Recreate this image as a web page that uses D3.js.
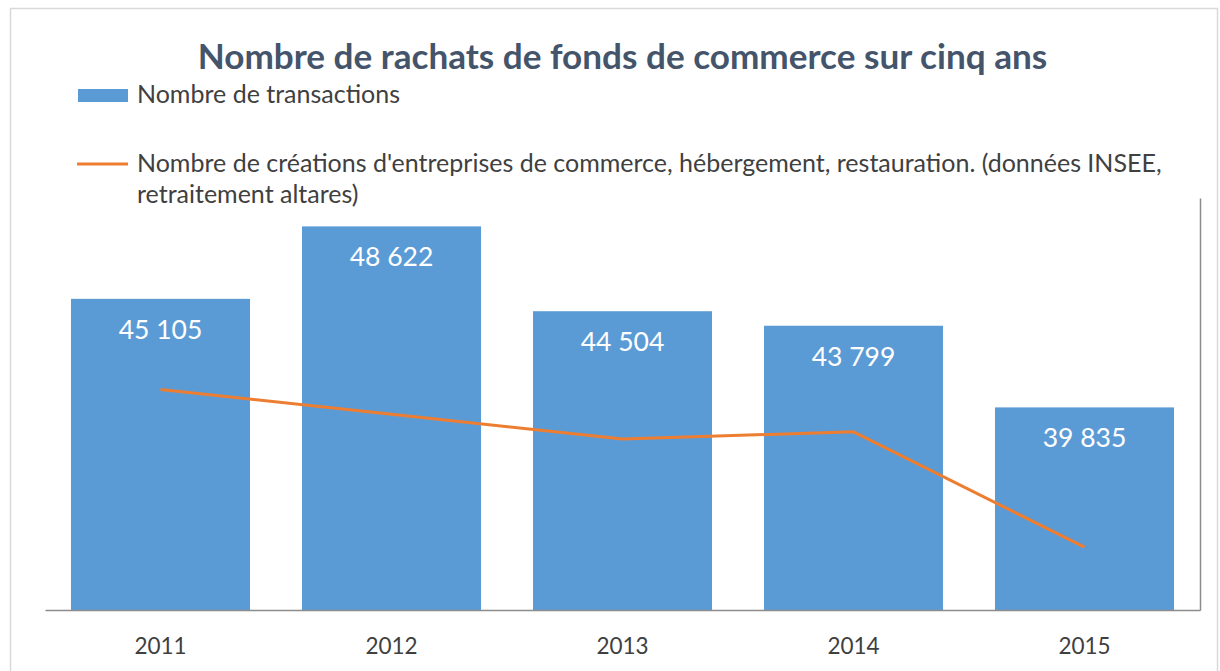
<!DOCTYPE html>
<html>
<head>
<meta charset="utf-8">
<script src="https://cdn.jsdelivr.net/npm/d3@7"></script>
<style>
    body { margin: 0; background: #fff; }
    text { font-family: Lato, "Open Sans", sans-serif; }
</style>
</head>
<body>
<div id="myChart"></div>
<script>
// data
const years = ["2011", "2012", "2013", "2014", "2015"];
const transactions = [45105, 48622, 44504, 43799, 39835];
// line series sits on a hidden secondary axis, values estimated
const creations = [81400, 79000, 76600, 77300, 66100];
const barDomain = [30000, 50000];
const lineDomain = [60000, 100000];

const titleText = "Nombre de rachats de fonds de commerce sur cinq ans";
const barLabel = "Nombre de transactions";
const lineLabel1 = "Nombre de créations d'entreprises de commerce, hébergement, restauration. (données INSEE,";
const lineLabel2 = "retraitement altares)";

const width = 1220;
const height = 671;
const plot = { left: 45, right: 1200, top: 198, bottom: 610 };
const barColor = "#5B9BD5";
const lineColor = "#ED7D31";

const fmt = v => d3.format(",")(v).replace(/,/g, " ");

//scale the font so a text hits a given width
function fitWidth(sel, w) {
    const len = sel.node().getComputedTextLength();
    const fs = parseFloat(sel.attr("font-size"));
    sel.attr("font-size", fs * w / len);
    return fs * w / len;
}

const svg = d3.select("#myChart")
    .append("svg")
    .attr("width", width)
    .attr("height", height);

//outer frame
svg.append("rect")
    .attr("x", 10.5)
    .attr("y", 8.5)
    .attr("width", 1207)
    .attr("height", 700)
    .attr("fill", "none")
    .attr("stroke", "#D9D9D9")
    .attr("stroke-width", 1.5);

const x = d3.scaleBand()
    .domain(years)
    .range([plot.left, plot.right])
    .paddingInner(0.225)
    .paddingOuter(0.1125);

const y = d3.scaleLinear().domain(barDomain).range([plot.bottom, plot.top]);
const y2 = d3.scaleLinear().domain(lineDomain).range([plot.bottom, plot.top]);

//title
const title = svg.append("text")
    .attr("x", (plot.left + plot.right) / 2)
    .attr("y", 69)
    .attr("text-anchor", "middle")
    .attr("font-size", 29)
    .attr("font-weight", "bold")
    .attr("fill", "#44546A")
    .text(titleText);
fitWidth(title, 850);

//legend
const legend = svg.append("g");
legend.append("rect")
    .attr("x", 78)
    .attr("y", 89)
    .attr("width", 50)
    .attr("height", 13)
    .attr("fill", barColor);
legend.append("line")
    .attr("x1", 77)
    .attr("x2", 128)
    .attr("y1", 164)
    .attr("y2", 164)
    .attr("stroke", lineColor)
    .attr("stroke-width", 3);

const l1 = legend.append("text")
    .attr("x", 137).attr("y", 172)
    .attr("font-size", 20)
    .attr("fill", "#404040")
    .text(lineLabel1);
const legendSize = fitWidth(l1, 1025);
legend.append("text")
    .attr("x", 137).attr("y", 203)
    .attr("font-size", legendSize)
    .attr("fill", "#404040")
    .text(lineLabel2);
legend.append("text")
    .attr("x", 137).attr("y", 103)
    .attr("font-size", legendSize)
    .attr("fill", "#404040")
    .text(barLabel);

//bars
const bars = svg.append("g");
bars.selectAll("rect")
    .data(transactions)
    .enter()
    .append("rect")
    .attr("x", (d, i) => x(years[i]))
    .attr("y", d => y(d))
    .attr("width", x.bandwidth())
    .attr("height", d => y(barDomain[0]) - y(d))
    .attr("fill", barColor);

//value labels inside bars
bars.selectAll("text")
    .data(transactions)
    .enter()
    .append("text")
    .attr("x", (d, i) => x(years[i]) + x.bandwidth() / 2)
    .attr("y", d => y(d) + 40)
    .attr("text-anchor", "middle")
    .attr("font-size", 26.5)
    .attr("fill", "#fff")
    .text(d => fmt(d));

//axes
const xAxis = svg.append("g")
    .attr("transform", `translate(0,${plot.bottom})`)
    .call(d3.axisBottom(x).tickSize(0).tickSizeOuter(0).tickPadding(28));
xAxis.select(".domain").attr("stroke", "#8C8C8C").attr("stroke-width", 1.5);
xAxis.selectAll("text")
    .attr("font-size", 22.5)
    .attr("fill", "#404040")
    .attr("font-family", "Lato, sans-serif");

const rightAxis = svg.append("g")
    .attr("transform", `translate(${plot.right},0)`)
    .call(d3.axisRight(y2).tickValues([]).tickSizeOuter(0));
rightAxis.select(".domain").attr("stroke", "#8C8C8C").attr("stroke-width", 1.5);

//line series
const line = d3.line()
    .x((d, i) => x(years[i]) + x.bandwidth() / 2)
    .y(d => y2(d));

svg.append("path")
    .datum(creations)
    .attr("d", line)
    .attr("fill", "none")
    .attr("stroke", lineColor)
    .attr("stroke-width", 3)
    .attr("stroke-linejoin", "round");
</script>
</body>
</html>
